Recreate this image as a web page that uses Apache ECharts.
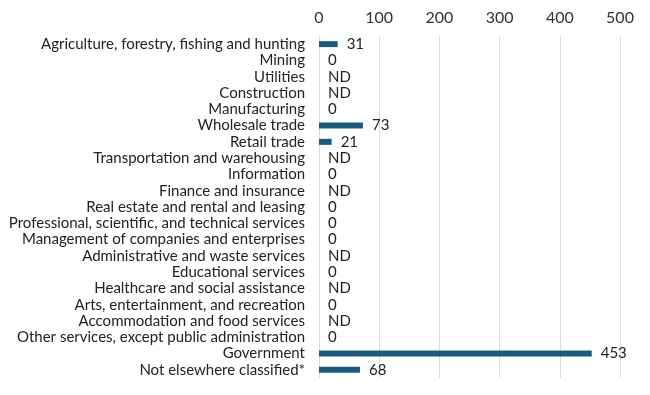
<!DOCTYPE html>
<html><head><meta charset="utf-8">
<script src="https://cdn.jsdelivr.net/npm/echarts@6/dist/echarts.min.js"></script>
<style>html,body{margin:0;padding:0;background:#fff}#c{width:650px;height:395px}</style>
</head><body><div id="c"></div>
<script>
var categories = ["Agriculture, forestry, fishing and hunting","Mining","Utilities","Construction","Manufacturing","Wholesale trade","Retail trade","Transportation and warehousing","Information","Finance and insurance","Real estate and rental and leasing","Professional, scientific, and technical services","Management of companies and enterprises","Administrative and waste services","Educational services","Healthcare and social assistance","Arts, entertainment, and recreation","Accommodation and food services","Other services, except public administration","Government","Not elsewhere classified*"];
var values = [31,0,null,null,0,73,21,null,0,null,0,0,0,null,0,null,0,null,0,453,68];
var xTicks = [0,100,200,300,400,500];

var chart = echarts.init(document.getElementById('c'), null, {renderer:'canvas'});
chart.setOption({
  animation:false,
  textStyle:{fontFamily:'Lato'},
  grid:{left:319, right:30, top:36, bottom:17, containLabel:false},
  xAxis:{type:'value', position:'top', min:0, max:500, interval:100,
    axisLine:{show:false}, axisTick:{show:false},
    axisLabel:{fontFamily:'Lato', fontSize:16, color:'#333', margin:10,
      formatter:function(v){return xTicks.indexOf(v)>=0?String(v):'';}},
    splitLine:{lineStyle:{color:'#dcdcdc', width:1}}},
  yAxis:{type:'category', inverse:true, data:categories,
    axisLine:{show:false}, axisTick:{show:false},
    axisLabel:{interval:0, fontFamily:'Lato', fontSize:15, color:'#222', margin:14}},
  series:[{type:'bar', barWidth:6,
    itemStyle:{color:'#1a5a80'},
    data: values.map(function(v){return v===null?0:v;}),
    label:{show:true, position:'right', distance:9, fontFamily:'Lato', fontSize:15, color:'#222',
      formatter:function(p){return values[p.dataIndex]===null?'ND':String(values[p.dataIndex]);}}}]
});
</script></body></html>
